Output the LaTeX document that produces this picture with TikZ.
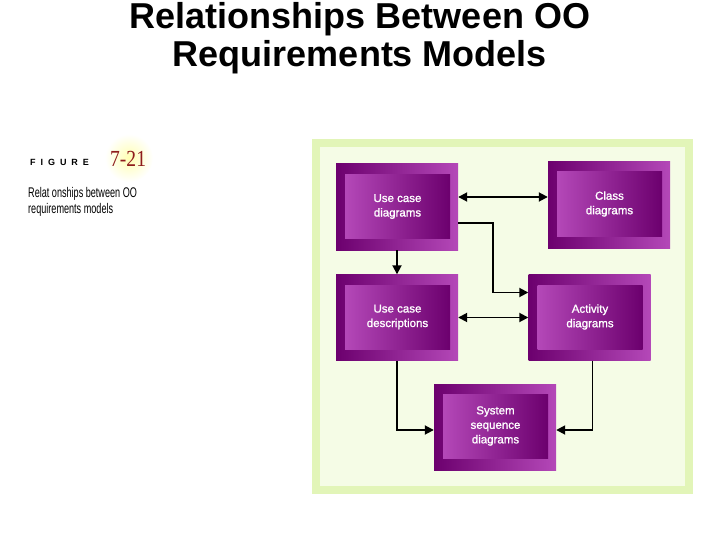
\documentclass[tikz,border=0pt]{standalone}
\usepackage{fontspec}
\setmainfont{Liberation Sans}
\newfontfamily\titlefont{Liberation Sans}
\newfontfamily\boxfont{Liberation Sans}[FakeBold=1.2]
\newfontfamily\capfont{Liberation Sans}[FakeStretch=0.65]
\newfontfamily\figfont{Liberation Sans}[LetterSpace=55]
\newfontfamily\numfont{Liberation Serif}[FakeStretch=0.85]
\usetikzlibrary{arrows.meta,calc}
\definecolor{panelborder}{HTML}{E2F5B8}
\definecolor{panelfill}{HTML}{F5FCE6}
\definecolor{pdark}{HTML}{6C006E}
\definecolor{plight}{HTML}{B448B8}
\definecolor{numred}{HTML}{8E1C1C}
\tikzset{
  outerbox/.style={rectangle, inner sep=0pt, minimum width=122pt, minimum height=86pt,
    left color=pdark, right color=plight},
  innerbox/.style={rectangle, inner sep=0pt, minimum width=105pt, minimum height=64pt,
    left color=plight, right color=pdark, text=white, align=center,
    font=\boxfont\fontsize{11.5}{14.5}\selectfont},
  conn/.style={line width=1.8pt, draw=black},
  tip/.style={-{Triangle[length=9pt,width=9pt]}},
  tips/.style={{Triangle[length=9pt,width=9pt]}-{Triangle[length=9pt,width=9pt]}}
}
\begin{document}
\begin{tikzpicture}[x=1pt,y=-1pt]
\useasboundingbox (0,0) rectangle (720,540);
% title
\node[anchor=base, font=\titlefont\bfseries\fontsize{36}{40}\selectfont] (t1) at (360,29) {Relationships Between OO};
\node[anchor=base, font=\titlefont\bfseries\fontsize{36}{40}\selectfont] (t2) at (360,67) {Requirements Models};
% figure caption
\shade[inner color=yellow!30, outer color=white] (129,158) circle (24);
\node[anchor=base west, inner sep=0pt, font=\figfont\bfseries\fontsize{9}{10}\selectfont] (fig) at (30,166) {FIGURE};
\node[anchor=base west, inner sep=0pt, text=numred, font=\numfont\fontsize{23}{25}\selectfont] (num) at (110,167) {7-21};
\node[anchor=base west, inner sep=0pt, font=\capfont\fontsize{14}{16}\selectfont] (c1) at (28,198) {Relat onships between OO};
\node[anchor=base west, inner sep=0pt, font=\capfont\fontsize{14}{16}\selectfont] (c2) at (28,213.5) {requirements models};
% panel
\fill[panelborder] (312,139) rectangle (693,494);
\fill[panelfill] (320,147) rectangle (685,486);
% boxes
\node[outerbox] (ucd) at (397,207) {};
\node[innerbox] (ucdi) at (397.5,206.5) {Use case\\diagrams};
\node[outerbox] (cls) at (609,205) {};
\node[innerbox] (clsi) at (609.5,204) {Class\\diagrams};
\node[outerbox] (ucs) at (397,317.5) {};
\node[innerbox] (ucsi) at (397.5,317) {Use case\\descriptions};
\node[outerbox] (act) at (589.5,317.5) {};
\node[innerbox] (acti) at (590,317) {Activity\\diagrams};
\node[outerbox] (ssd) at (495,427) {};
\node[innerbox] (ssdi) at (495.5,426) {System\\sequence\\diagrams};
% connectors
\draw[conn,tips] ([yshift=10pt]ucd.east) -- ([yshift=10pt]ucd.east -| cls.west);
\draw[conn,tip] ([yshift=-16pt]ucd.east) -- ++(35,0) |- ([yshift=25pt]act.west);
\draw[conn,tip] (ucd.south) -- (ucs.north);
\draw[conn,tips] (ucs.east) -- (act.west);
\draw[conn,tip] (ucs.south) |- ([yshift=-3pt]ssd.west);
\draw[conn,tip] ([xshift=3pt]act.south) |- ([yshift=-3pt]ssd.east);
\end{tikzpicture}
\end{document}
